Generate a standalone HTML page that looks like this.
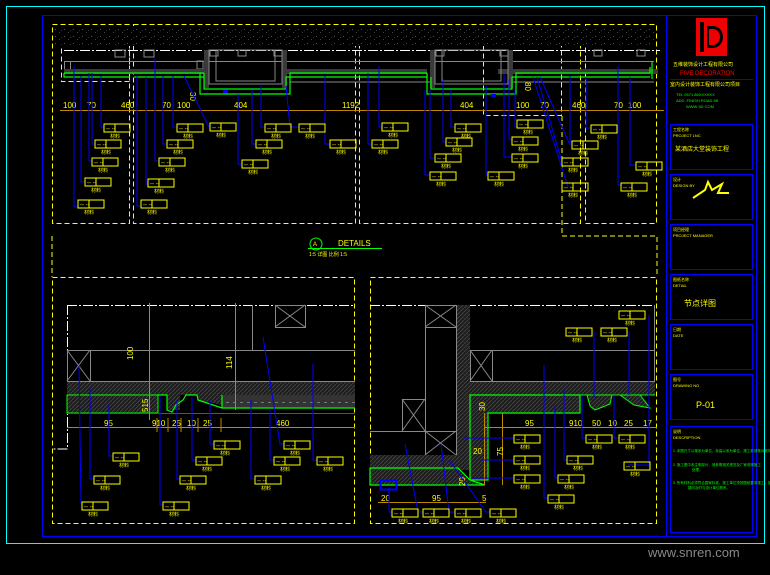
<!DOCTYPE html>
<html><head><meta charset="utf-8"><style>
html,body{margin:0;padding:0;background:#000;width:770px;height:575px;overflow:hidden}
svg{display:block}
text{font-family:"Liberation Sans","Noto Sans CJK SC",sans-serif}
</style></head><body>
<svg width="770" height="575" viewBox="0 0 770 575" xmlns="http://www.w3.org/2000/svg">
<defs>
<pattern id="sp" width="9" height="7" patternUnits="userSpaceOnUse"><rect width="9" height="7" fill="#000"/><rect x="1" y="1" width="1" height="1" fill="#555"/><rect x="5" y="4" width="1" height="1" fill="#444"/><rect x="7" y="2" width="1" height="1" fill="#333"/></pattern>
<pattern id="ht" width="4" height="4" patternUnits="userSpaceOnUse"><rect width="4" height="4" fill="#1e1e1e"/><path d="M0 4L4 0" stroke="#4a4a4a" stroke-width="0.7"/></pattern>
<g id="L"><rect x="0" y="0" width="26" height="8" fill="none" stroke="#ff0" stroke-width="1"/><line x1="11" y1="0" x2="11" y2="8" stroke="#ff0"/><text x="2" y="6.5" font-size="6" fill="#ff0">-- --</text><text x="6" y="14" font-size="5" fill="#ff0">材料</text></g>
</defs>
<rect width="770" height="575" fill="#000"/>
<rect x="6.5" y="6.5" width="758" height="537" fill="none" stroke="#0ff"/>
<rect x="42.5" y="15.5" width="714" height="521" fill="none" stroke="#00f"/>
<line x1="666.5" y1="15" x2="666.5" y2="536" stroke="#00f"/>

<g fill="none" stroke="#ff0" stroke-dasharray="5,3">
<rect x="52.5" y="24.5" width="77" height="199"/>
<rect x="133.5" y="24.5" width="222" height="199"/>
<rect x="359.5" y="24.5" width="221" height="199"/>
<rect x="585.5" y="24.5" width="71" height="199"/>
<rect x="61.5" y="45.5" width="68" height="36"/>
<rect x="483.5" y="40.5" width="78" height="75"/>
<polyline points="562,116 562,236 657,236 657,277"/>
<polyline points="52,236 52,277"/>
<rect x="52.5" y="277.5" width="302" height="246"/>
<rect x="370.5" y="277.5" width="286" height="246"/>
</g>

<rect x="54" y="26" width="600" height="20" fill="url(#sp)"/>
<line x1="64" y1="50.5" x2="660" y2="50.5" stroke="#fff" stroke-dasharray="10,2,2,2"/>
<g stroke="#888" fill="none">
<line x1="64" y1="61.5" x2="654" y2="61.5"/>
<rect x="64.5" y="61.5" width="6" height="8"/><rect x="115" y="50" width="10" height="7"/>
<rect x="144" y="50" width="10" height="7"/><rect x="197" y="61" width="6" height="8"/>
</g>
<rect x="64" y="69" width="140" height="5" fill="#3a3a3a"/>
<rect x="287" y="69" width="140" height="5" fill="#3a3a3a"/>
<rect x="498" y="69" width="160" height="5" fill="#3a3a3a"/>
<rect x="204" y="50" width="5" height="38" fill="#3a3a3a"/><rect x="282" y="50" width="5" height="38" fill="#3a3a3a"/>
<rect x="430" y="50" width="5" height="38" fill="#3a3a3a"/><rect x="508" y="50" width="5" height="38" fill="#3a3a3a"/>
<g stroke="#888" fill="none">
<rect x="209" y="50" width="73" height="34"/><rect x="216" y="50" width="59" height="31"/>
<rect x="435" y="50" width="73" height="34"/><rect x="442" y="50" width="59" height="31"/>
<line x1="290" y1="82" x2="430" y2="82"/><line x1="513" y1="82" x2="654" y2="82"/>
<rect x="210" y="50" width="8" height="6"/><rect x="274" y="50" width="8" height="6"/>
<rect x="436" y="50" width="8" height="6"/><rect x="500" y="50" width="8" height="6"/>
<rect x="238" y="50" width="8" height="6"/><rect x="594" y="50" width="8" height="6"/><rect x="637" y="50" width="8" height="6"/>
</g>
<g stroke="#0f0" fill="none" stroke-width="1.2">
<polyline points="64,73 64,77 130,77"/><polyline points="134,77 204,77 204,73"/>
<polyline points="64,73 204,73"/>
<polyline points="200,73 200,94 290,94 290,73 427,73"/><polyline points="204,77 204,89 286,89 286,77 427,77"/>
<polyline points="427,73 427,94 516,94 516,73 650,73 650,67"/><polyline points="431,77 431,89 512,89 512,77 650,77"/>
<line x1="652" y1="62" x2="652" y2="79"/>
</g>
<rect x="223" y="90" width="5" height="3" fill="#00f"/><rect x="491" y="94" width="5" height="3" fill="#00f"/>
<line x1="60" y1="110.5" x2="664" y2="110.5" stroke="#b80"/>
<g fill="#ff0" font-size="8">
<text x="63" y="108">100</text><text x="87" y="108">70</text><text x="121" y="108">460</text>
<text x="162" y="108">70</text><text x="177" y="108">100</text><text x="234" y="108">404</text>
<text x="342" y="108">1192</text><text x="460" y="108">404</text><text x="516" y="108">100</text>
<text x="540" y="108">70</text><text x="572" y="108">460</text><text x="614" y="108">70</text><text x="628" y="108">100</text>
<text x="190" y="92" transform="rotate(90 190 92)">30</text>
<text x="525" y="82" transform="rotate(90 525 82)">80</text>
</g>

<g stroke="#00f" fill="none">
<polyline points="74,66 74,207 78,207"/><polyline points="81,76 81,182 85,182"/><polyline points="89,73 89,161 92,161"/>
<polyline points="92,73 92,144 95,144"/><polyline points="101,76 101,127 104,127"/>
<polyline points="137,75 137,206 141,206"/><polyline points="146,77 146,184 148,184"/><polyline points="155,59 155,161 159,161"/>
<polyline points="163,76 163,144 167,144"/><polyline points="173,76 173,127 177,127"/>
<polyline points="184,76 209,127"/><polyline points="238,94 238,164 242,164"/><polyline points="252,90 252,144 256,144"/>
<polyline points="261,86 261,127 265,127"/><polyline points="286,86 290,127 299,127"/><polyline points="325,76 325,144 330,144"/>
<polyline points="368,73 368,144 372,144"/><polyline points="379,66 379,127 382,127"/>
<polyline points="425,90 425,175 430,175"/><polyline points="430,90 430,158 435,158"/><polyline points="443,79 443,142 446,142"/>
<polyline points="451,90 451,127 455,127"/><polyline points="486,86 486,175 488,175"/><polyline points="504,74 504,157 512,157"/>
<polyline points="509,79 509,140 512,140"/><polyline points="515,90 515,127 517,127"/>
<polyline points="533,77 568,187"/><polyline points="537,77 562,162"/><polyline points="540,77 570,145"/>
<polyline points="570,76 570,142 572,142"/><polyline points="586,77 586,128 591,128"/><polyline points="618,66 618,185 622,185"/>
<polyline points="630,77 630,165 636,165"/>
</g>
<g>
<use href="#L" x="104" y="124"/><use href="#L" x="95" y="140"/><use href="#L" x="92" y="158"/><use href="#L" x="85" y="178"/><use href="#L" x="78" y="200"/>
<use href="#L" x="141" y="200"/><use href="#L" x="148" y="179"/><use href="#L" x="159" y="158"/><use href="#L" x="167" y="140"/><use href="#L" x="177" y="124"/>
<use href="#L" x="210" y="123"/><use href="#L" x="242" y="160"/><use href="#L" x="256" y="140"/><use href="#L" x="265" y="124"/>
<use href="#L" x="299" y="124"/><use href="#L" x="330" y="140"/><use href="#L" x="372" y="140"/><use href="#L" x="382" y="123"/>
<use href="#L" x="430" y="172"/><use href="#L" x="435" y="154"/><use href="#L" x="446" y="138"/><use href="#L" x="455" y="124"/>
<use href="#L" x="488" y="172"/><use href="#L" x="512" y="154"/><use href="#L" x="512" y="137"/><use href="#L" x="517" y="120"/>
<use href="#L" x="562" y="158"/><use href="#L" x="572" y="141"/><use href="#L" x="562" y="183"/><use href="#L" x="591" y="125"/>
<use href="#L" x="636" y="162"/><use href="#L" x="621" y="183"/>
</g>

<circle cx="316" cy="244" r="6" fill="none" stroke="#0f0"/>
<text x="313" y="246" font-size="6" fill="#ff0">A</text>
<line x1="308" y1="248.5" x2="382" y2="248.5" stroke="#0f0"/>
<text x="338" y="246" font-size="8" fill="#ff0">DETAILS</text>
<text x="309" y="256" font-size="5" fill="#ff0">1:5 详图 比例 1:5</text>

<line x1="67" y1="305.5" x2="355" y2="305.5" stroke="#fff" stroke-dasharray="10,2,2,2"/>
<polyline points="67.5,305 67.5,449 52,449" fill="none" stroke="#fff" stroke-dasharray="10,2,2,2"/>
<g stroke="#888" fill="none">
<line x1="67" y1="350.5" x2="355" y2="350.5"/>
<rect x="67.5" y="350.5" width="23" height="31"/><path d="M67 350L90 381M90 350L67 381"/>
<line x1="252.5" y1="305" x2="252.5" y2="350"/>
<rect x="275.5" y="305.5" width="30" height="22"/><path d="M275 305L305 327M305 305L275 327"/>
<line x1="67" y1="381.5" x2="355" y2="381.5"/>
</g>
<rect x="67" y="382" width="288" height="13" fill="url(#ht)"/>
<rect x="67" y="395" width="91" height="18" fill="url(#ht)" stroke="#0f0"/>
<rect x="167" y="395" width="13" height="15" fill="url(#ht)"/>
<path d="M191 395L198 395L198 400L222 405L222 395Z" fill="url(#ht)"/>
<rect x="222" y="395" width="133" height="13" fill="#333"/>
<g fill="none" stroke="#0f0" stroke-width="1.2">
<polyline points="158,395 167,395 167,410 172,412 176,405 183,400 186,395 197,395 198,400 210,404 222,408 355,408"/>
<polyline points="222,395 222,408"/>
</g>
<line x1="226" y1="402.5" x2="355" y2="402.5" stroke="#777" stroke-dasharray="3,4"/>
<line x1="67" y1="413.5" x2="355" y2="413.5" stroke="#555"/>
<g stroke="#b80">
<line x1="67" y1="427.5" x2="355" y2="427.5"/>
<line x1="149.5" y1="303" x2="149.5" y2="420"/><line x1="235.5" y1="303" x2="235.5" y2="410"/>
<line x1="157" y1="418" x2="157" y2="432"/><line x1="168" y1="418" x2="168" y2="432"/><line x1="181" y1="418" x2="181" y2="432"/><line x1="198" y1="418" x2="198" y2="432"/><line x1="221" y1="418" x2="221" y2="432"/>
</g>
<g fill="#ff0" font-size="8">
<text x="104" y="426">95</text><text x="152" y="426">910</text><text x="172" y="426">25</text><text x="187" y="426">10</text><text x="203" y="426">25</text><text x="276" y="426">460</text>
<text x="143" y="350" transform="rotate(-90 143 360)">100</text>
<text x="228" y="365" transform="rotate(-90 232 365)">114</text>
<text x="142" y="410" transform="rotate(-90 146 408)">515</text>
</g>
<g stroke="#00f" fill="none">
<polyline points="79,366 81,503 82,503"/><polyline points="90,388 90,479 94,479"/><polyline points="109,404 109,456 113,456"/>
<polyline points="160,396 160,505 163,505"/><polyline points="177,400 177,479 180,479"/><polyline points="192,397 192,460 196,460"/>
<polyline points="210,399 210,444 214,444"/><polyline points="251,400 251,479 255,479"/><polyline points="270,410 270,460 274,460"/>
<polyline points="263,337 280,444 284,444"/><polyline points="313,364 313,460 317,460"/>
</g>
<g>
<use href="#L" x="113" y="453"/><use href="#L" x="94" y="476"/><use href="#L" x="82" y="502"/><use href="#L" x="163" y="502"/>
<use href="#L" x="180" y="476"/><use href="#L" x="196" y="457"/><use href="#L" x="214" y="441"/><use href="#L" x="255" y="476"/>
<use href="#L" x="274" y="457"/><use href="#L" x="284" y="441"/><use href="#L" x="317" y="457"/>
</g>

<line x1="370" y1="305.5" x2="655" y2="305.5" stroke="#fff" stroke-dasharray="10,2,2,2"/>
<g stroke="#888" fill="none">
<line x1="654.5" y1="305" x2="654.5" y2="350"/>
<rect x="425.5" y="305.5" width="31" height="150"/>
<rect x="425.5" y="305.5" width="31" height="22"/><path d="M425 305L456 327M456 305L425 327"/>
<rect x="470.5" y="350.5" width="184" height="31"/>
<rect x="470.5" y="350.5" width="22" height="31"/><path d="M470 350L492 381M492 350L470 381"/>
<rect x="402.5" y="399.5" width="23" height="32"/><path d="M402 399L425 431M425 399L402 431"/>
<rect x="425.5" y="431.5" width="31" height="24"/><path d="M425 431L456 455M456 431L425 455"/>
<line x1="370" y1="431.5" x2="425" y2="431.5"/>
</g>
<rect x="457" y="305" width="13" height="165" fill="url(#ht)"/>
<rect x="470" y="382" width="185" height="13" fill="url(#ht)"/>
<rect x="370" y="455" width="87" height="13" fill="url(#ht)"/>
<path d="M470 395L580 395L580 413L488 413L488 480L470 480Z" fill="url(#ht)" stroke="#0f0" stroke-width="1.2"/>
<path d="M370 468L458 468L470 480L485 485L370 485Z" fill="url(#ht)" stroke="#0f0" stroke-width="1.2"/>
<path d="M587 395L590 406L595 410L610 404L612 395Z M620 395L634 405L650 408L640 395Z" fill="url(#ht)" stroke="#0f0"/>
<polyline points="580,395 655,395" stroke="#0f0" fill="none"/>
<rect x="380.5" y="480.5" width="16" height="9" fill="none" stroke="#00f" stroke-width="2"/>
<g stroke="#b80">
<line x1="485" y1="427.5" x2="657" y2="427.5"/><line x1="378" y1="502.5" x2="486" y2="502.5"/>
<line x1="484.5" y1="413" x2="484.5" y2="485"/><line x1="502.5" y1="413" x2="502.5" y2="485"/>
</g>
<g fill="#ff0" font-size="8">
<text x="525" y="426">95</text><text x="569" y="426">910</text><text x="592" y="426">50</text><text x="608" y="426">10</text><text x="624" y="426">25</text><text x="643" y="426">17</text>
<text x="381" y="501">20</text><text x="432" y="501">95</text><text x="482" y="501">5</text>
<text x="473" y="454">20</text>
<text x="476" y="412" transform="rotate(-90 480 407)">30</text>
<text x="496" y="455" transform="rotate(-90 500 452)">75</text>
<text x="456" y="487" transform="rotate(-90 460 482)">20</text>
</g>
<g stroke="#00f" fill="none">
<polyline points="649,315 649,465 628,465"/><polyline points="594,331 594,397 596,397"/><polyline points="629,331 629,395"/>
<polyline points="464,438 514,438"/><polyline points="482,460 514,460"/><polyline points="472,478 514,478"/>
<polyline points="582,396 582,438 586,438"/><polyline points="614,396 614,438 619,438"/>
<polyline points="564,390 564,460 567,460"/><polyline points="555,405 555,478 558,478"/><polyline points="544,365 544,498 548,498"/>
<polyline points="389,488 389,512 392,512"/><polyline points="405,444 418,512 423,512"/><polyline points="441,444 449,512 455,512"/><polyline points="449,460 486,512 490,512"/>
</g>
<g>
<use href="#L" x="619" y="311"/><use href="#L" x="566" y="328"/><use href="#L" x="601" y="328"/>
<use href="#L" x="514" y="435"/><use href="#L" x="586" y="435"/><use href="#L" x="619" y="435"/>
<use href="#L" x="514" y="456"/><use href="#L" x="567" y="456"/><use href="#L" x="624" y="462"/>
<use href="#L" x="514" y="475"/><use href="#L" x="558" y="475"/><use href="#L" x="548" y="495"/>
<use href="#L" x="392" y="509"/><use href="#L" x="423" y="509"/><use href="#L" x="455" y="509"/><use href="#L" x="490" y="509"/>
</g>

<rect x="696" y="18" width="31" height="38" fill="#e00"/>
<rect x="700" y="22" width="4" height="30" fill="#000"/>
<path d="M707 26 h6 a10 11 0 0 1 0 22 h-6Z" fill="#000"/>
<path d="M709 29 h4 a7 8 0 0 1 0 16 h-4Z" fill="#e00"/>
<text x="673" y="66" font-size="5" fill="#ff0">五维装饰设计工程有限公司</text>
<text x="680" y="75" font-size="6" fill="#f00">FIVE DECORATION</text>
<line x1="670" y1="79.5" x2="753" y2="79.5" stroke="#00f"/>
<text x="670" y="86" font-size="5" fill="#ff0">室内设计装饰工程有限公司项目</text>
<text x="676" y="96" font-size="4" fill="#0f0">TEL 0571 86XXXXXX</text>
<text x="676" y="102" font-size="4" fill="#0f0">ADD. FINISH ROAD 88</text>
<text x="686" y="108" font-size="4" fill="#0f0">WWW 5D COM</text>
<g fill="none" stroke="#00f" stroke-width="1">
<rect x="670.5" y="124.5" width="82" height="45"/><rect x="670.5" y="174.5" width="82" height="45"/>
<rect x="670.5" y="224.5" width="82" height="45"/><rect x="670.5" y="274.5" width="82" height="45"/>
<rect x="670.5" y="324.5" width="82" height="45"/><rect x="670.5" y="374.5" width="82" height="45"/>
<rect x="670.5" y="426.5" width="82" height="106"/>
</g>
<g fill="#ff0" font-size="4">
<text x="673" y="131">工程名称</text><text x="673" y="137">PROJECT LNC</text>
<text x="673" y="181">设计</text><text x="673" y="187">DESIGN BY</text>
<text x="673" y="231">项目经理</text><text x="673" y="237">PROJECT MANAGER</text>
<text x="673" y="281">图纸名称</text><text x="673" y="287">DETAIL</text>
<text x="673" y="331">日期</text><text x="673" y="337">DATE</text>
<text x="673" y="381">图号</text><text x="673" y="387">DRAWING NO</text>
<text x="673" y="433">说明</text><text x="673" y="439">DESCRIPTION</text>
</g>
<text x="675" y="151" font-size="6" fill="#ff0">某酒店大堂装饰工程</text>
<path d="M693 198 L705 190 L708 182 L712 190 L722 184 L718 193 L729 193" fill="none" stroke="#ff0" stroke-width="2"/>
<text x="684" y="306" font-size="8" fill="#ff0">节点详图</text>
<text x="696" y="408" font-size="9" fill="#ff0">P-01</text>
<g fill="#0f0" font-size="3.5">
<text x="673" y="452">1. 本图尺寸以毫米为单位，标高以米为单位，施工前请核对现场</text>
<text x="673" y="466">2. 施工图中未注明部分，请参照相关规范及厂家说明施工</text>
<text x="692" y="471">处理。</text>
<text x="673" y="484">3. 所有材料必须符合国家标准，施工单位须按图纸要求施工，如有</text>
<text x="688" y="489">疑问及时与设计单位联系。</text>
</g>
<text x="648" y="557" font-size="13" fill="#888" font-family="Liberation Serif, serif">www.snren.com</text>
</svg>
</body></html>
